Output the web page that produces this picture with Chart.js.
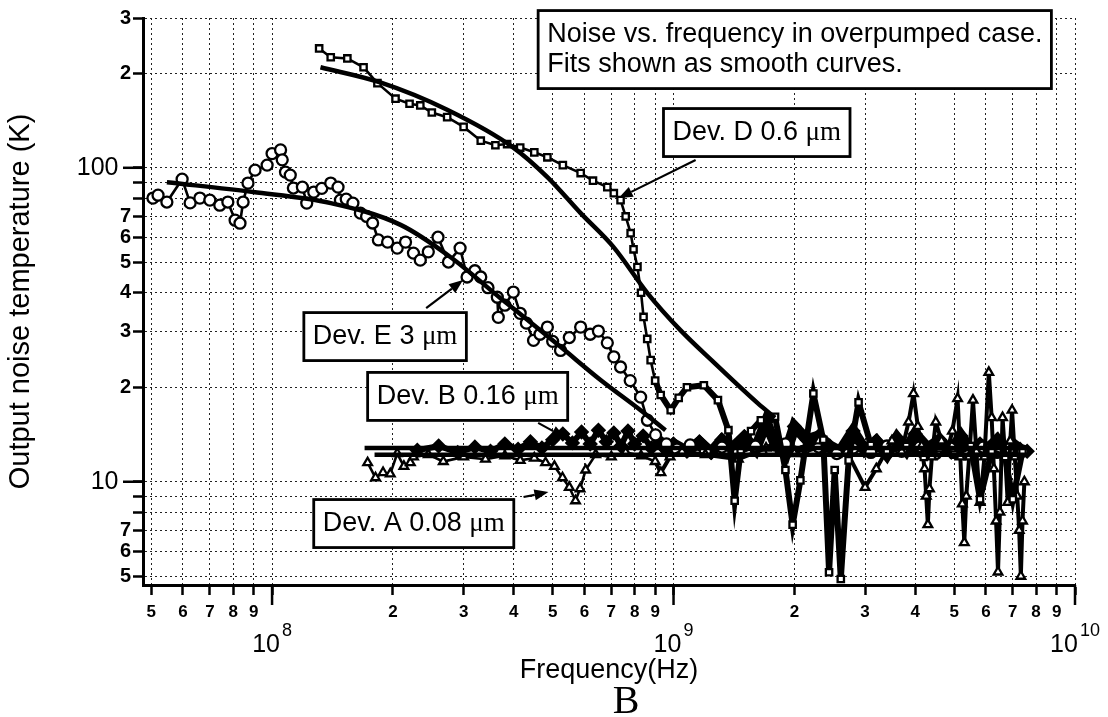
<!DOCTYPE html>
<html>
<head>
<meta charset="utf-8">
<title>Noise vs. frequency</title>
<script src="https://cdn.jsdelivr.net/npm/chart.js@4.4.0/dist/chart.umd.min.js"></script>
<style>
    html, body { margin: 0; padding: 0; background: #fff; }
    canvas { display: block; }
</style>
</head>
<body>
<canvas id="noise_chart" width="1108" height="717"></canvas>
<script>
const SANS = '"Liberation Sans", Arial, Helvetica, sans-serif';
const SERIF = '"Liberation Serif", "Times New Roman", serif';

// axis ranges and ticks
const X_MIN = 4.77e7;
const X_MAX = 1e10;
const Y_MIN = 4.69;
const Y_MAX = 300;
const xTickValues = [5e7, 6e7, 7e7, 8e7, 9e7, 1e8, 2e8, 3e8, 4e8, 5e8, 6e8, 7e8, 8e8, 9e8,
    1e9, 2e9, 3e9, 4e9, 5e9, 6e9, 7e9, 8e9, 9e9, 1e10];
const xTickLabels = ['5', '6', '7', '8', '9', '', '2', '3', '4', '5', '6', '7', '8', '9',
    '', '2', '3', '4', '5', '6', '7', '8', '9', ''];
const xDecadeValues = [1e8, 1e9, 1e10];
const xDecadeExponents = ['8', '9', '10'];
const yTickValues = [5, 6, 7, 8, 9, 10, 20, 30, 40, 50, 60, 70, 80, 90, 100, 200, 300];
const yTickLabels = ['5', '6', '7', '', '', '10\u2002', '2', '3', '4', '5', '6', '7', '', '', '100\u2002', '2', '3'];
const yDecadeValues = [10, 100];

// above this frequency the traces pile up into one dense band
const BAND_START = 9e8;

// Dev. E 3 um (circles)
const eFreq = [5.05e7, 5.2e7, 5.47e7, 5.97e7, 6.25e7, 6.61e7, 7.0e7, 7.41e7, 7.76e7, 8.09e7,
    8.32e7, 8.47e7, 8.71e7, 9.07e7, 9.72e7, 1.0e8, 1.05e8, 1.06e8, 1.08e8, 1.11e8,
    1.13e8, 1.19e8, 1.22e8, 1.27e8, 1.33e8, 1.40e8, 1.46e8, 1.48e8, 1.53e8, 1.59e8,
    1.66e8, 1.72e8, 1.78e8, 1.84e8, 1.94e8, 2.05e8, 2.15e8, 2.25e8, 2.34e8, 2.45e8,
    2.59e8, 2.75e8, 2.94e8, 3.06e8, 3.2e8, 3.31e8, 3.45e8, 3.64e8, 3.66e8, 3.8e8,
    3.99e8, 4.15e8, 4.3e8, 4.48e8, 4.65e8, 4.85e8, 5.0e8, 5.23e8, 5.5e8, 5.87e8,
    6.2e8, 6.5e8, 6.84e8, 7.1e8, 7.38e8, 7.8e8, 8.28e8, 8.61e8, 9.02e8, 9.6e8,
    1.02e9, 1.1e9, 1.2e9, 1.32e9, 1.45e9, 1.6e9, 1.75e9, 1.9e9, 2.1e9, 2.3e9,
    2.55e9, 2.8e9, 3.1e9, 3.4e9, 3.7e9, 4.1e9, 4.5e9, 4.9e9, 5.4e9, 5.9e9,
    6.4e9, 6.9e9, 7.4e9];
const eTemp = [80.1, 81.8, 77.8, 92.0, 77.3, 80.1, 78.9, 76.0, 77.8, 68.1,
    66.6, 77.8, 89.4, 98.3, 102, 111, 114, 106, 96.9, 94.8,
    86.2, 86.8, 77.2, 83.7, 86.0, 89.4, 86.8, 78.9, 79.5, 77.2,
    71.7, 70.0, 66.7, 58.9, 58.0, 55.5, 58.0, 53.5, 50.8, 54.0,
    60.1, 50.1, 55.5, 44.9, 47.0, 44.9, 41.5, 38.7, 33.4, 36.5,
    40.2, 34.4, 32.0, 28.2, 29.5, 31.1, 28.0, 26.2, 28.8, 31.1,
    29.5, 30.2, 27.7, 25.0, 23.2, 21.0, 18.6, 15.7, 14.1, 13.2,
    12.7, 13.1, 12.5, 12.9, 12.4, 13.0, 12.6, 13.2, 12.5, 12.9,
    12.3, 12.8, 12.4, 13.0, 12.5, 12.9, 12.3, 12.8, 12.5, 12.9,
    12.4, 12.8, 12.5];

// Dev. D 0.6 um (squares)
const dFreq = [1.31e8, 1.40e8, 1.54e8, 1.69e8, 1.83e8, 2.03e8, 2.2e8, 2.34e8, 2.5e8, 2.73e8,
    3.0e8, 3.31e8, 3.6e8, 3.85e8, 4.15e8, 4.5e8, 4.85e8, 5.3e8, 5.87e8, 6.3e8,
    6.84e8, 7.1e8, 7.38e8, 7.6e8, 7.82e8, 7.95e8, 8.13e8, 8.3e8, 8.42e8, 8.6e8,
    8.77e8, 9.0e8, 9.29e8, 9.84e8, 1.03e9, 1.08e9, 1.19e9, 1.29e9, 1.37e9, 1.42e9,
    1.47e9, 1.56e9, 1.65e9, 1.79e9, 1.9e9, 1.98e9, 2.07e9, 2.23e9, 2.36e9, 2.44e9,
    2.52e9, 2.61e9, 2.73e9, 2.89e9, 3.1e9, 3.4e9, 3.8e9, 4.2e9, 4.6e9, 5.0e9,
    5.5e9, 5.8e9, 6.2e9, 6.7e9, 7.0e9, 7.4e9];
const dTemp = [240, 225, 223, 209, 186, 166, 160, 158, 150, 145,
    135, 122, 118, 119, 116, 112, 108, 102, 96.2, 91,
    86.8, 83, 78.9, 70, 61.9, 55, 48.3, 40, 33.5, 28.5,
    24.4, 21, 18.9, 16.9, 18.5, 20.0, 20.3, 18.2, 14.6, 8.7,
    12.6, 14.5, 15.7, 16.1, 10.9, 7.3, 10.1, 19.1, 13.6, 5.15,
    10.9, 4.9, 11.7, 17.9, 13.1, 12.5, 13.0, 12.0, 12.8, 12.2,
    13.0, 8.8, 12.5, 12.0, 8.8, 12.5];

// Dev. B 0.16 um (dense band)
const bFreq = [2.3e8, 2.6e8, 2.9e8, 3.2e8, 3.5e8, 3.8e8, 4.1e8, 4.4e8, 4.7e8, 5.0e8,
    5.3e8, 5.6e8, 5.9e8, 6.2e8, 6.5e8, 6.8e8, 7.1e8, 7.4e8, 7.7e8, 8.0e8,
    8.4e8, 8.8e8, 9.2e8, 9.6e8, 1.0e9, 1.08e9, 1.16e9, 1.24e9, 1.32e9, 1.4e9,
    1.5e9, 1.6e9, 1.7e9, 1.8e9, 1.9e9, 2.0e9, 2.15e9, 2.3e9, 2.45e9, 2.6e9,
    2.8e9, 3.0e9, 3.2e9, 3.4e9, 3.6e9, 3.8e9, 4.0e9, 4.3e9, 4.6e9, 4.9e9,
    5.2e9, 5.5e9, 5.8e9, 6.1e9, 6.4e9, 6.7e9, 7.0e9, 7.3e9, 7.6e9];
const bTemp = [12.6, 13.0, 12.4, 12.9, 12.5, 13.2, 12.7, 13.4, 12.8, 13.6,
    14.2, 13.3, 14.4, 13.2, 14.6, 13.4, 14.3, 13.0, 14.5, 13.2,
    14.0, 12.8, 13.5, 12.6, 13.2, 12.5, 13.4, 12.4, 13.6, 12.8,
    13.9, 12.7, 15.5, 13.0, 12.2, 15.0, 13.6, 14.0, 13.0, 12.5,
    14.5, 12.6, 13.5, 12.2, 13.8, 12.6, 14.2, 12.8, 13.6, 12.5,
    14.0, 12.6, 13.2, 12.8, 13.6, 12.5, 13.2, 12.7, 12.5];

// Dev. A 0.08 um (triangles)
const aFreq = [1.73e8, 1.81e8, 1.89e8, 1.97e8, 2.05e8, 2.13e8, 2.21e8, 2.25e8, 2.45e8, 2.67e8,
    3.0e8, 3.4e8, 3.8e8, 4.15e8, 4.5e8, 4.8e8, 5.05e8, 5.29e8, 5.5e8, 5.7e8,
    5.85e8, 6.04e8, 6.4e8, 7.0e8, 7.6e8, 8.3e8, 9.0e8, 9.3e8, 9.8e8, 1.05e9,
    1.2e9, 1.45e9, 1.7e9, 2.0e9, 2.3e9, 2.7e9, 3.0e9, 3.2e9, 3.5e9, 3.7e9,
    3.85e9, 3.96e9, 4.06e9, 4.15e9, 4.22e9, 4.26e9, 4.3e9, 4.34e9, 4.4e9, 4.5e9,
    4.65e9, 4.8e9, 4.95e9, 5.1e9, 5.18e9, 5.24e9, 5.3e9, 5.36e9, 5.45e9, 5.57e9,
    5.68e9, 5.8e9, 5.95e9, 6.1e9, 6.2e9, 6.28e9, 6.36e9, 6.43e9, 6.5e9, 6.6e9,
    6.7e9, 6.8e9, 6.9e9, 6.97e9, 7.08e9, 7.18e9, 7.26e9, 7.33e9, 7.4e9, 7.48e9];
const aTemp = [11.5, 10.3, 10.7, 10.6, 12.3, 11.2, 11.5, 12.0, 12.2, 11.6,
    12.0, 11.8, 12.1, 11.7, 11.9, 11.5, 11.2, 10.3, 9.6, 8.7,
    9.5, 10.9, 12.2, 12.0, 12.4, 12.1, 11.6, 10.7, 12.0, 12.5,
    12.2, 11.8, 12.8, 12.3, 13.5, 12.5, 9.6, 11.0, 13.5, 12.5,
    15.5, 19.1, 15.0, 13.0, 11.0, 9.0, 7.3, 9.5, 12.0, 15.5,
    13.5, 12.5, 14.5, 18.4, 12.0, 8.5, 6.4, 9.0, 12.0, 18.2,
    12.5, 8.6, 12.0, 22.3, 16.0, 11.0, 7.5, 5.16, 8.0, 16.0,
    12.0, 8.6, 13.5, 16.9, 12.0, 9.0, 7.0, 5.0, 7.5, 10.0];

// smooth fits
const eFitFreq = [5.47e7, 8.97e7, 1.40e8, 2.09e8, 2.78e8, 3.70e8, 4.4e8, 5.23e8, 6.58e8, 8.28e8, 9.55e8];
const eFitTemp = [90.0, 83.7, 77.2, 65.8, 52.0, 38.5, 32.2, 26.9, 21.1, 16.9, 14.6];
const dFitFreq = [1.32e8, 1.86e8, 2.73e8, 3.99e8, 4.85e8, 5.87e8, 7.09e8, 8.61e8, 1.04e9, 1.26e9, 1.62e9, 1.79e9];
const dFitTemp = [209, 187, 153, 116, 93.4, 71.7, 55.9, 39.9, 30.4, 24.0, 17.8, 16.0];
const bFitFreq = [1.7e8, 7.6e9];
const bFitTemp = [12.8, 12.8];
const aFitFreq = [1.8e8, 7.6e9];
const aFitTemp = [12.2, 12.2];

// text boxes: left edge frequency, centre temperature
const noteText = [
    ['Noise vs. frequency in overpumped case.', 'Fits shown as smooth curves.'],
    ['Dev. D 0.6 μm'],
    ['Dev. E 3 μm'],
    ['Dev. B 0.16 μm'],
    ['Dev. A 0.08 μm'],
];
const noteAt = [[4.6e8, 238], [9.44e8, 129.5], [1.20e8, 29.0], [1.73e8, 18.7], [1.27e8, 7.36]];
const arrowFrom = [[1.135e9, 105.8], [2.42e8, 35.7], [4.6e8, 15.4], [4.23e8, 8.94]];
const arrowTo = [[7.3e8, 80.1], [2.99e8, 43.9], [5.38e8, 13.8], [4.88e8, 9.27]];

const NOTE_SIZE = 27;
const NOTE_LINE = 30;
const NOTE_PAD_X = 9;
const NOTE_PAD_Y = 9;

function points(xs, ys) {
    return xs.map((x, i) => ({ x: x, y: ys[i] }));
}

// line width that grows inside the crowded high-frequency band
function bandWidth(thin, thick) {
    return (c) => (c.p0.parsed.x >= BAND_START ? thick : thin);
}

function dataSet(label, xs, ys, style, radius, order, thick) {
    return {
        label: label,
        data: points(xs, ys),
        borderColor: '#000',
        borderWidth: 2.6,
        segment: { borderWidth: bandWidth(2.6, thick) },
        pointStyle: style,
        pointRadius: radius,
        pointBorderWidth: 2.3,
        pointBorderColor: '#000',
        pointBackgroundColor: '#fff',
        order: order,
    };
}

function fitSet(label, xs, ys) {
    return {
        label: label,
        data: points(xs, ys),
        borderColor: '#000',
        borderWidth: 4.5,
        pointRadius: 0,
        cubicInterpolationMode: 'monotone',
        order: 0,
    };
}

function lineParts(text) {
    const k = text.indexOf('μm');
    if (k < 0) return [[text, SANS]];
    return [[text.slice(0, k), SANS], ['μm', SERIF]];
}

function textWidth(ctx, text) {
    return lineParts(text).reduce((w, p) => {
        ctx.font = NOTE_SIZE + 'px ' + p[1];
        return w + ctx.measureText(p[0]).width;
    }, 0);
}

function drawNote(ctx, left, cy, lines) {
    const w = Math.max(...lines.map((t) => textWidth(ctx, t))) + 2 * NOTE_PAD_X;
    const h = lines.length * NOTE_LINE + 2 * NOTE_PAD_Y;
    const top = cy - h / 2;
    ctx.fillStyle = '#fff';
    ctx.fillRect(left, top, w, h);
    ctx.lineWidth = 2.8;
    ctx.strokeStyle = '#000';
    ctx.strokeRect(left, top, w, h);
    ctx.fillStyle = '#000';
    ctx.textAlign = 'left';
    ctx.textBaseline = 'middle';
    lines.forEach((t, i) => {
        let tx = left + NOTE_PAD_X;
        const ty = top + NOTE_PAD_Y + NOTE_LINE * (i + 0.5);
        lineParts(t).forEach((p) => {
            ctx.font = NOTE_SIZE + 'px ' + p[1];
            ctx.fillText(p[0], tx, ty);
            tx += ctx.measureText(p[0]).width;
        });
    });
}

function drawArrow(ctx, x1, y1, x2, y2) {
    const ang = Math.atan2(y2 - y1, x2 - x1);
    const len = 14;
    const half = 5.5;
    ctx.strokeStyle = '#000';
    ctx.fillStyle = '#000';
    ctx.lineWidth = 2.2;
    ctx.beginPath();
    ctx.moveTo(x1, y1);
    ctx.lineTo(x2 - len * Math.cos(ang), y2 - len * Math.sin(ang));
    ctx.stroke();
    ctx.beginPath();
    ctx.moveTo(x2, y2);
    ctx.lineTo(x2 - len * Math.cos(ang) + half * Math.sin(ang), y2 - len * Math.sin(ang) - half * Math.cos(ang));
    ctx.lineTo(x2 - len * Math.cos(ang) - half * Math.sin(ang), y2 - len * Math.sin(ang) + half * Math.cos(ang));
    ctx.closePath();
    ctx.fill();
}

const annotations = {
    id: 'annotations',
    afterDatasetsDraw(chart) {
        const { ctx, scales: { x, y } } = chart;
        ctx.save();
        arrowFrom.forEach((from, i) => {
            const to = arrowTo[i];
            drawArrow(ctx, x.getPixelForValue(from[0]), y.getPixelForValue(from[1]),
                x.getPixelForValue(to[0]), y.getPixelForValue(to[1]));
        });
        noteAt.forEach((at, i) => {
            drawNote(ctx, x.getPixelForValue(at[0]), y.getPixelForValue(at[1]), noteText[i]);
        });
        ctx.restore();
    },
    afterDraw(chart) {
        const { ctx, chartArea, scales: { x, y } } = chart;
        ctx.save();
        ctx.strokeStyle = '#000';
        ctx.lineWidth = 2.5;
        // longer ticks at the decades
        xDecadeValues.forEach((v) => {
            const px = x.getPixelForValue(v);
            ctx.beginPath();
            ctx.moveTo(px, x.top);
            ctx.lineTo(px, x.top + 20);
            ctx.stroke();
        });
        yDecadeValues.forEach((v) => {
            const py = y.getPixelForValue(v);
            ctx.beginPath();
            ctx.moveTo(y.right - 20, py);
            ctx.lineTo(y.right, py);
            ctx.stroke();
        });
        // decade labels 10^n
        ctx.fillStyle = '#000';
        ctx.textAlign = 'left';
        ctx.textBaseline = 'alphabetic';
        xDecadeValues.forEach((v, i) => {
            const px = x.getPixelForValue(v);
            const exp = xDecadeExponents[i];
            ctx.font = '25px ' + SANS;
            const wb = ctx.measureText('10').width;
            ctx.font = '18px ' + SANS;
            const we = ctx.measureText(exp).width;
            const left = px - (wb + 2 + we) / 2;
            ctx.font = '25px ' + SANS;
            ctx.fillText('10', left, x.top + 67);
            ctx.font = '18px ' + SANS;
            ctx.fillText(exp, left + wb + 2, x.top + 51);
        });
        // panel letter
        ctx.font = '40px ' + SERIF;
        ctx.textAlign = 'center';
        ctx.fillText('B', (chartArea.left + chartArea.right) / 2 + 17, chart.height - 4);
        ctx.restore();
    },
};

const gridStyle = {
    color: '#222',
    lineWidth: 1,
    drawTicks: true,
    tickLength: 10,
    tickColor: '#000',
    tickWidth: 2.5,
    tickBorderDash: [],
};
const borderStyle = { display: true, color: '#000', width: 3, dash: [2, 3] };

const ctx = document.getElementById('noise_chart');
const myChart = new Chart(ctx, {
    type: 'line',
    data: {
        datasets: [
            fitSet('Dev. D fit', dFitFreq, dFitTemp),
            fitSet('Dev. E fit', eFitFreq, eFitTemp),
            fitSet('Dev. B fit', bFitFreq, bFitTemp),
            fitSet('Dev. A fit', aFitFreq, aFitTemp),
            dataSet('Dev. D 0.6 um', dFreq, dTemp, 'rect', 4.5, 1, 6),
            dataSet('Dev. A 0.08 um', aFreq, aTemp, 'triangle', 5, 1, 4),
            dataSet('Dev. E 3 um', eFreq, eTemp, 'circle', 5.5, 2, 5),
            {
                label: 'Dev. B 0.16 um',
                data: points(bFreq, bTemp),
                borderColor: '#000',
                borderWidth: 6,
                segment: { borderWidth: bandWidth(6, 11) },
                pointStyle: 'rectRot',
                pointRadius: 3.5,
                pointBackgroundColor: '#000',
                pointBorderColor: '#000',
                order: 3,
            },
        ],
    },
    options: {
        responsive: false,
        animation: false,
        devicePixelRatio: 1,
        layout: { padding: { top: 18, right: 33, bottom: 0, left: 0 } },
        plugins: { legend: { display: false }, tooltip: { enabled: false } },
        scales: {
            x: {
                type: 'logarithmic',
                min: X_MIN,
                max: X_MAX,
                afterBuildTicks: (axis) => {
                    axis.ticks = xTickValues.map((v) => ({ value: v }));
                },
                afterFit: (axis) => {
                    axis.height = 132;
                },
                ticks: {
                    autoSkip: false,
                    maxRotation: 0,
                    minRotation: 0,
                    padding: 7,
                    color: '#000',
                    font: { family: SANS, size: 17, weight: 'bold' },
                    callback: (v) => xTickLabels[xTickValues.indexOf(v)],
                },
                grid: gridStyle,
                border: borderStyle,
                title: {
                    display: true,
                    text: 'Frequency(Hz)',
                    color: '#000',
                    font: { family: SANS, size: 27 },
                    padding: { top: 0, bottom: 30 },
                },
            },
            y: {
                type: 'logarithmic',
                min: Y_MIN,
                max: Y_MAX,
                afterBuildTicks: (axis) => {
                    axis.ticks = yTickValues.map((v) => ({ value: v }));
                },
                afterFit: (axis) => {
                    axis.width = 143;
                },
                ticks: {
                    autoSkip: false,
                    padding: 2,
                    color: '#000',
                    font: (c) => {
                        if (c.tick && yDecadeValues.includes(c.tick.value)) {
                            return { family: SANS, size: 25, weight: 'normal' };
                        }
                        return { family: SANS, size: 20, weight: 'bold' };
                    },
                    callback: (v) => yTickLabels[yTickValues.indexOf(v)],
                },
                grid: gridStyle,
                border: borderStyle,
                title: {
                    display: true,
                    text: 'Output noise temperature (K)',
                    color: '#000',
                    font: { family: SANS, size: 29 },
                    padding: { top: 4, bottom: 0 },
                },
            },
        },
    },
    plugins: [annotations],
});
</script>
</body>
</html>
